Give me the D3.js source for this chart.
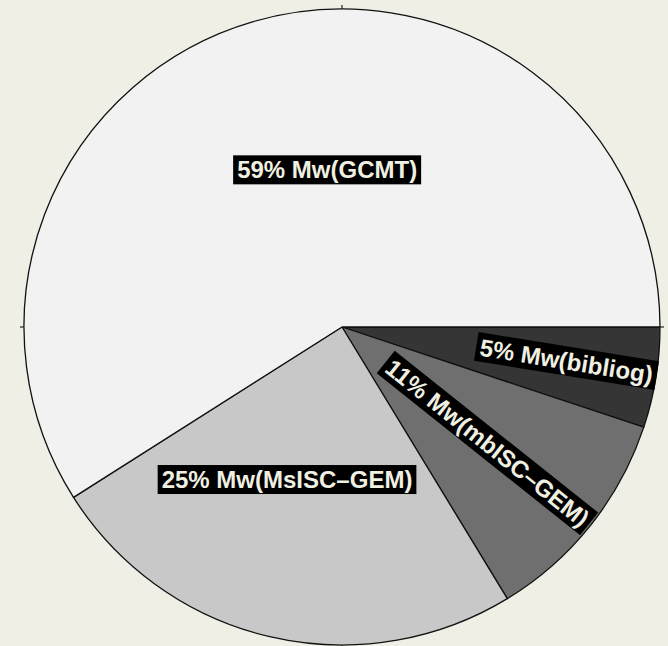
<!DOCTYPE html>
<html>
<head>
<meta charset="utf-8">
<script src="https://cdn.jsdelivr.net/npm/d3@7"></script>
<style>
  body { margin: 0; background: #efefe6; }
  svg { display: block; }
</style>
</head>
<body>
<div id="plot"></div>
<script>
// slices in drawing order, clockwise from 3 o'clock
var sources = ["bibliog", "mbISC\u2013GEM", "MsISC\u2013GEM", "GCMT"];
var shares = [5.1, 11.2, 24.7, 59.0];
var shown = [5, 11, 25, 59];
var fills = ["#353535", "#6f6f6f", "#c8c8c8", "#f2f2f2"];

var width = 668;
var height = 646;
var cx = 342, cy = 327, radius = 318;

// label placement: radius, angle shift from bisector (deg), rotate along bisector?
var labelR = [227, 186, 162, 158];
var labelShift = [-0.6, 0, 6.7, 10.8];
var labelRot = [true, true, false, false];

var svg = d3.select("div#plot")
  .append("svg")
  .attr("width", width)
  .attr("height", height);

var g = svg.append("g").attr("transform", "translate(" + cx + "," + cy + ")");

var pie = d3.pie()
  .sort(null)
  .startAngle(Math.PI / 2)
  .endAngle(Math.PI / 2 + 2 * Math.PI);

var arc = d3.arc().innerRadius(0).outerRadius(radius);

var arcs = pie(shares);

g.selectAll("path.slice")
  .data(arcs)
  .enter()
  .append("path")
  .attr("class", "slice")
  .attr("d", arc)
  .style("fill", function(d, i){ return fills[i]; })
  .style("stroke", "#111")
  .style("stroke-width", 1.3)
  .style("stroke-linejoin", "round");

// frame ticks
var tickAngles = [0, 90, 180, 270];
g.selectAll("line.tick")
  .data(tickAngles)
  .enter()
  .append("line")
  .attr("x1", function(a){ return radius * Math.cos(a * Math.PI / 180); })
  .attr("y1", function(a){ return -radius * Math.sin(a * Math.PI / 180); })
  .attr("x2", function(a){ return (radius + 4) * Math.cos(a * Math.PI / 180); })
  .attr("y2", function(a){ return -(radius + 4) * Math.sin(a * Math.PI / 180); })
  .style("stroke", "#222")
  .style("stroke-width", 1.2);

// labels
var labels = g.selectAll("g.label")
  .data(arcs)
  .enter()
  .append("g")
  .attr("class", "label")
  .attr("transform", function(d, i){
    var mid = (d.startAngle + d.endAngle) / 2 - Math.PI / 2;
    var a = mid + labelShift[i] * Math.PI / 180;
    var x = labelR[i] * Math.cos(a);
    var y = labelR[i] * Math.sin(a);
    var rot = labelRot[i] ? mid * 180 / Math.PI : 0;
    return "translate(" + x + "," + y + ") rotate(" + rot + ")";
  });

labels.append("text")
  .attr("text-anchor", "middle")
  .attr("dy", "0.36em")
  .style("font-family", "'Liberation Sans', Arial, Helvetica, sans-serif")
  .style("font-weight", "bold")
  .style("font-size", "24px")
  .style("fill", "#f0f0e2")
  .text(function(d, i){ return shown[i] + "% Mw(" + sources[i] + ")"; });

labels.each(function(){
  var grp = d3.select(this);
  var bb = grp.select("text").node().getBBox();
  grp.insert("rect", "text")
    .attr("x", bb.x - 4)
    .attr("y", bb.y - 1)
    .attr("width", bb.width + 8)
    .attr("height", bb.height + 2)
    .style("fill", "#000");
});
</script>
</body>
</html>
